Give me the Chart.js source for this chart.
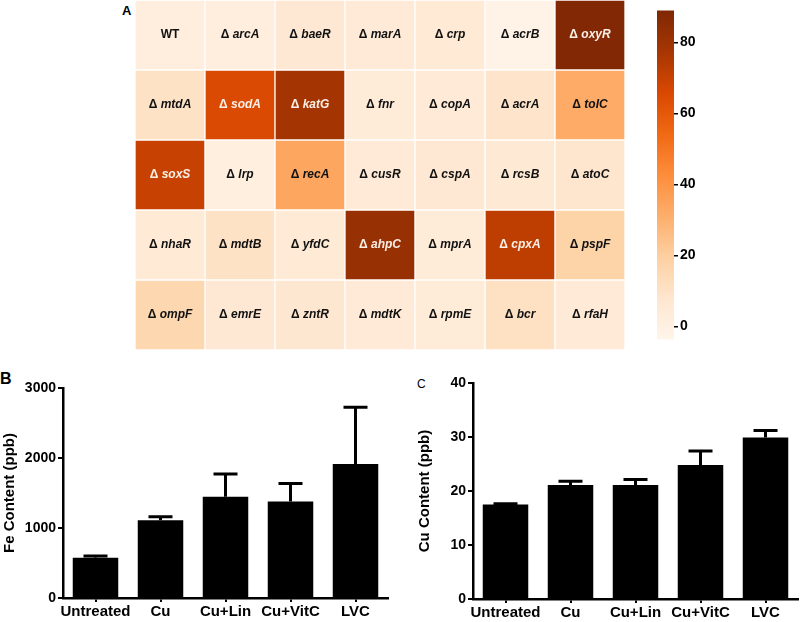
<!DOCTYPE html>
<html>
<head>
<meta charset="utf-8">
<script src="https://cdn.jsdelivr.net/npm/chart.js@4.4.1/dist/chart.umd.min.js"></script>
<style>
  body { margin: 0; width: 800px; height: 622px; position: relative; background: #fff; overflow: hidden;
         font-family: "Liberation Sans", Arial, sans-serif; }
  .box { position: absolute; }
  .panel { position: absolute; color: #000; line-height: 1; }
</style>
</head>
<body>
<div class="panel" style="left:122px;top:4px;font-weight:bold;font-size:13px;">A</div>
<div class="panel" style="left:0px;top:371px;font-weight:bold;font-size:16px;">B</div>
<div class="panel" style="left:417px;top:378px;font-size:12px;">C</div>

<div class="box" style="left:135px;top:0;width:490px;height:350px"><canvas id="heat"></canvas></div>
<div class="box" style="left:657px;top:0;width:60px;height:350px"><canvas id="cbar"></canvas></div>
<div class="box" style="left:0;top:370px;width:400px;height:252px"><canvas id="fe"></canvas></div>
<div class="box" style="left:400px;top:370px;width:400px;height:252px"><canvas id="cu"></canvas></div>

<script>
const FONT = "'Liberation Sans', Arial, sans-serif";

// Panel A: deletion strains, row by row
const geneRows = [
    ['WT', 'arcA', 'baeR', 'marA', 'crp', 'acrB', 'oxyR'],
    ['mtdA', 'sodA', 'katG', 'fnr', 'copA', 'acrA', 'tolC'],
    ['soxS', 'lrp', 'recA', 'cusR', 'cspA', 'rcsB', 'atoC'],
    ['nhaR', 'mdtB', 'yfdC', 'ahpC', 'mprA', 'cpxA', 'pspF'],
    ['ompF', 'emrE', 'zntR', 'mdtK', 'rpmE', 'bcr', 'rfaH']
];
const heatValues = [
    [2, 1.5, 6, 4.5, 5, -2, 88],
    [10, 65, 78, 3.5, 4.5, 9, 32],
    [70, 1, 34, 4.5, 6, 5.5, 8],
    [5, 10, 5, 82, 3.5, 72, 18],
    [16, 6, 7, 4.5, 4, 11, 4.5]
];
const scaleMin = -3.7;
const scaleMax = 89;
const colorbarTicks = [0, 20, 40, 60, 80];

// Panels B and C
const treatments = ['Untreated', 'Cu', 'Cu+Lin', 'Cu+VitC', 'LVC'];
const feMeans = [575, 1110, 1445, 1378, 1915];
const feErrors = [25, 50, 325, 258, 810];
const cuMeans = [17.5, 21.1, 21.1, 24.8, 29.9];
const cuErrors = [0.15, 0.7, 1.05, 2.6, 1.3];

// "Oranges" colour map
const oranges = ['#fff5eb', '#fee6ce', '#fdd0a2', '#fdae6b', '#fd8d3c', '#f16913', '#d94801', '#a63603', '#7f2704'];

function hexToRgb(h) {
    return [parseInt(h.slice(1, 3), 16), parseInt(h.slice(3, 5), 16), parseInt(h.slice(5, 7), 16)];
}

function orangeAt(v) {
    let t = (v - scaleMin) / (scaleMax - scaleMin);
    t = Math.max(0, Math.min(1, t));
    const p = t * (oranges.length - 1);
    const i = Math.min(Math.floor(p), oranges.length - 2);
    const f = p - i;
    const a = hexToRgb(oranges[i]), b = hexToRgb(oranges[i + 1]);
    const c = a.map((x, k) => Math.round(x + (b[k] - x) * f));
    return `rgb(${c[0]}, ${c[1]}, ${c[2]})`;
}

Chart.defaults.font.family = FONT;
Chart.defaults.color = '#000';

// Gene names written in the middle of each cell
const cellLabels = {
    id: 'cellLabels',
    afterDatasetsDraw(chart) {
        const ctx = chart.ctx;
        ctx.save();
        ctx.textBaseline = 'middle';
        ctx.textAlign = 'left';
        chart.data.datasets.forEach((ds, i) => {
            chart.getDatasetMeta(i).data.forEach((bar, j) => {
                const gene = ds.genes[j];
                const cy = (bar.y + bar.base) / 2;
                ctx.fillStyle = heatValues[i][j] > 55 ? '#fbefe6' : '#111';
                if (gene === 'WT') {
                    ctx.font = `bold 12px ${FONT}`;
                    ctx.textAlign = 'center';
                    ctx.fillText(gene, bar.x, cy);
                    ctx.textAlign = 'left';
                    return;
                }
                const pre = '\u0394 ';
                ctx.font = `bold 12px ${FONT}`;
                const w1 = ctx.measureText(pre).width;
                ctx.font = `italic bold 12px ${FONT}`;
                const w2 = ctx.measureText(gene).width;
                const x0 = bar.x - (w1 + w2) / 2;
                ctx.font = `bold 12px ${FONT}`;
                ctx.fillText(pre, x0, cy);
                ctx.font = `italic bold 12px ${FONT}`;
                ctx.fillText(gene, x0 + w1, cy);
            });
        });
        ctx.restore();
    }
};

new Chart(document.getElementById('heat'), {
    type: 'bar',
    data: {
        labels: geneRows[0].map((_, j) => 'c' + j),
        datasets: geneRows.map((row, i) => ({
            data: row.map(() => 1),
            genes: row,
            backgroundColor: heatValues[i].map(orangeAt),
            borderColor: '#ffffff',
            borderWidth: 1,
            borderSkipped: false,
            categoryPercentage: 1,
            barPercentage: 1
        }))
    },
    options: {
        animation: false,
        responsive: true,
        maintainAspectRatio: false,
        layout: { padding: 0 },
        plugins: { legend: { display: false }, tooltip: { enabled: false } },
        scales: {
            x: { display: false, stacked: true },
            y: { display: false, stacked: true, min: 0, max: geneRows.length, reverse: true }
        }
    },
    plugins: [cellLabels]
});

// Colour bar
new Chart(document.getElementById('cbar'), {
    type: 'bar',
    data: {
        labels: [''],
        datasets: [{
            data: [[scaleMin, scaleMax]],
            backgroundColor: (c) => {
                const area = c.chart.chartArea;
                if (!area) return oranges[0];
                const g = c.chart.ctx.createLinearGradient(0, area.bottom, 0, area.top);
                oranges.forEach((col, k) => g.addColorStop(k / (oranges.length - 1), col));
                return g;
            },
            borderWidth: 0,
            categoryPercentage: 1,
            barPercentage: 1
        }]
    },
    options: {
        animation: false,
        responsive: true,
        maintainAspectRatio: false,
        layout: { padding: 0 },
        plugins: { legend: { display: false }, tooltip: { enabled: false } },
        scales: {
            x: { display: false },
            y: {
                position: 'right',
                min: scaleMin,
                max: scaleMax,
                afterBuildTicks: (s) => { s.ticks = colorbarTicks.map(v => ({ value: v })); },
                afterFit: (s) => { s.width = 43; },
                grid: { drawOnChartArea: false, drawTicks: true, tickLength: 4, color: '#000', lineWidth: 1.5 },
                border: { display: false },
                ticks: { color: '#000', padding: 2, font: { size: 14, weight: 'bold' } }
            }
        }
    }
});

// Upward error bars with caps
const errorBars = {
    id: 'errorBars',
    afterDatasetsDraw(chart) {
        const ctx = chart.ctx;
        const ys = chart.scales.y;
        const ds = chart.data.datasets[0];
        ctx.save();
        ctx.strokeStyle = '#000';
        ctx.lineWidth = 3;
        chart.getDatasetMeta(0).data.forEach((bar, i) => {
            const top = ys.getPixelForValue(ds.data[i] + ds.errors[i]);
            ctx.beginPath();
            ctx.moveTo(bar.x, bar.y);
            ctx.lineTo(bar.x, top);
            ctx.moveTo(bar.x - 12, top);
            ctx.lineTo(bar.x + 12, top);
            ctx.stroke();
        });
        ctx.restore();
    }
};

function makeBarChart(id, means, errors, yMax, yStep, yTitle, axisW, titlePad, padTop, padRight, xH) {
    return new Chart(document.getElementById(id), {
        type: 'bar',
        data: {
            labels: treatments,
            datasets: [{
                data: means,
                errors: errors,
                backgroundColor: '#000',
                borderWidth: 0,
                categoryPercentage: 1,
                barPercentage: 0.7
            }]
        },
        options: {
            animation: false,
            responsive: true,
            maintainAspectRatio: false,
            layout: { padding: { top: padTop, right: padRight, left: 0, bottom: 0 } },
            plugins: { legend: { display: false }, tooltip: { enabled: false } },
            scales: {
                x: {
                    afterFit: (s) => { s.height = xH; },
                    grid: { drawOnChartArea: false, offset: false, tickLength: 4, color: '#000', lineWidth: 2 },
                    border: { color: '#000', width: 2.5 },
                    ticks: { color: '#000', padding: 1, autoSkip: false, maxRotation: 0, minRotation: 0,
                             font: { size: 15, weight: 'bold' } }
                },
                y: {
                    min: 0,
                    max: yMax,
                    afterFit: (s) => { s.width = axisW; },
                    grid: { drawOnChartArea: false, tickLength: 5, color: '#000', lineWidth: 2 },
                    border: { color: '#000', width: 2.5 },
                    ticks: { stepSize: yStep, color: '#000', padding: 2, font: { size: 14, weight: 'bold' },
                             callback: (v) => String(v) },
                    title: {
                        display: true,
                        text: yTitle,
                        color: '#000',
                        font: { size: 15, weight: 'bold' },
                        padding: { top: titlePad, bottom: 0 }
                    }
                }
            }
        },
        plugins: [errorBars]
    });
}

makeBarChart('fe', feMeans, feErrors, 3000, 1000, 'Fe Content (ppb)', 63, 1, 18, 12, 24);
makeBarChart('cu', cuMeans, cuErrors, 40, 10, 'Cu Content (ppb)', 73, 16, 13, 2, 23);
</script>
</body>
</html>
